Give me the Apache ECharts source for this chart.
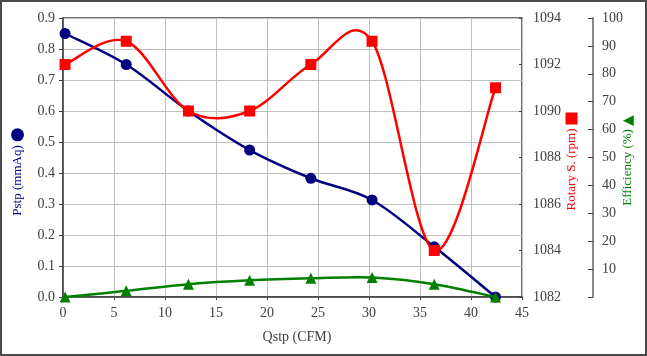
<!DOCTYPE html>
<html>
<head>
<meta charset="utf-8">
<script src="https://cdn.jsdelivr.net/npm/echarts@6/dist/echarts.min.js"></script>
<style>
html,body{margin:0;padding:0;background:#fff;}
#wrap{position:relative;width:647px;height:356px;}
#chart{position:absolute;left:0;top:0;width:647px;height:356px;}
#frame{position:absolute;left:0;top:0;width:647px;height:356px;box-sizing:border-box;border:2px solid #4a4a4a;pointer-events:none;}
</style>
</head>
<body>
<div id="wrap"><div id="chart"></div><div id="frame"></div></div>
<script>
var qstp = [0.2, 6.2, 12.3, 18.3, 24.3, 30.3, 36.4, 42.4];
var pstp = [0.85, 0.75, 0.60, 0.474, 0.383, 0.313, 0.162, 0.0];
var rotary = [1092, 1093, 1090, 1090, 1092, 1093, 1084, 1091];
var efficiency = [0, 2.2, 4.6, 6.0, 6.7, 7.0, 4.6, 0];

var FONT = '"Liberation Serif", "DejaVu Serif", serif';
var LABEL = {fontFamily: FONT, fontSize: 14, color: '#404040'};

function pairs(ys) { return qstp.map(function (x, i) { return [x, ys[i]]; }); }

// Smoothed (Excel-like Catmull-Rom Bezier) line drawn through the axis scales
function smoothSeries(ys, axisIndex, color, z) {
  return {
    type: 'custom', yAxisIndex: axisIndex, z: z, silent: true,
    data: pairs(ys),
    renderItem: function (params, api) {
      var i = params.dataIndex, n = qstp.length;
      if (i >= n - 1) return null;
      function P(k) { k = Math.max(0, Math.min(n - 1, k)); return api.coord([qstp[k], ys[k]]); }
      var p0 = P(i - 1), p1 = P(i), p2 = P(i + 1), p3 = P(i + 2);
      return {
        type: 'bezierCurve',
        shape: {
          x1: p1[0], y1: p1[1], x2: p2[0], y2: p2[1],
          cpx1: p1[0] + (p2[0] - p0[0]) / 6, cpy1: p1[1] + (p2[1] - p0[1]) / 6,
          cpx2: p2[0] - (p3[0] - p1[0]) / 6, cpy2: p2[1] - (p3[1] - p1[1]) / 6
        },
        style: {stroke: color, lineWidth: 2.5, fill: null, lineCap: 'round'}
      };
    }
  };
}
function marks(ys, axisIndex, color, symbol, size, z) {
  return {
    type: 'scatter', yAxisIndex: axisIndex, z: z, data: pairs(ys),
    symbol: symbol, symbolSize: size, itemStyle: {color: color, opacity: 1}
  };
}

var chart = echarts.init(document.getElementById('chart'), null, {renderer: 'canvas'});
chart.setOption({
  animation: false,
  backgroundColor: '#fff',
  grid: {left: 63, right: 125, top: 18, bottom: 59, outerBoundsMode: 'none', containLabel: false,
         show: true, borderColor: '#404040', borderWidth: 1.5, backgroundColor: 'transparent'},
  xAxis: {
    type: 'value', min: 0, max: 45, interval: 5,
    name: 'Qstp (CFM)', nameLocation: 'middle', nameGap: 33, nameMoveOverlap: false,
    nameTextStyle: {fontFamily: FONT, fontSize: 14, color: '#404040', padding: [0, 0, 0, 9]},
    axisLine: {show: true, onZero: false, lineStyle: {color: '#404040', width: 1.5}},
    axisTick: {show: true, length: 3, lineStyle: {color: '#404040'}},
    axisLabel: Object.assign({margin: 9}, LABEL),
    splitLine: {show: true, lineStyle: {color: '#c0c0c0', width: 1}}
  },
  yAxis: [
    {
      type: 'value', min: 0, max: 0.9, interval: 0.1, position: 'left',
      name: '{t|Pstp (mmAq)}{g|}{m|}', nameLocation: 'middle', nameRotate: 90, nameGap: 39, nameMoveOverlap: false,
      nameTextStyle: {padding: [0, 29, 0, 0], rich: {
        t: {fontFamily: FONT, fontSize: 13, color: '#000080'},
        g: {width: 4},
        m: {width: 13, height: 13, borderRadius: 6.5, backgroundColor: '#000080'}
      }},
      axisLine: {show: true, lineStyle: {color: '#404040', width: 1.5}},
      axisTick: {show: true, length: 4, lineStyle: {color: '#404040'}},
      axisLabel: Object.assign({margin: 8, formatter: function (v) { return v.toFixed(1); }}, LABEL),
      splitLine: {show: true, lineStyle: {color: '#c0c0c0', width: 1}}
    },
    {
      type: 'value', min: 1082, max: 1094, interval: 2, position: 'right',
      name: '{t|Rotary S. (rpm)}{g|}{m|}', nameLocation: 'middle', nameRotate: 90, nameGap: 43, nameMoveOverlap: false,
      nameTextStyle: {padding: [0, 8, 0, 0], rich: {
        t: {fontFamily: FONT, fontSize: 13, color: '#ff0000'},
        g: {width: 4},
        m: {width: 12, height: 12, backgroundColor: '#ff0000'}
      }},
      axisLine: {show: false},
      axisTick: {show: true, inside: true, length: 3, lineStyle: {color: '#404040'}},
      axisLabel: Object.assign({margin: 11, formatter: function (v) { return String(v); }}, LABEL),
      splitLine: {show: false}
    },
    {
      type: 'value', min: 0, max: 100, interval: 10, position: 'right', offset: 71,
      name: '{t|Efficiency (%)}{g|}{m|▲}', nameLocation: 'middle', nameRotate: 90, nameGap: 28, nameMoveOverlap: false,
      nameTextStyle: {padding: [0, 6, 0, 0], rich: {
        t: {fontFamily: FONT, fontSize: 13, color: '#008000'},
        g: {width: 3},
        m: {fontFamily: '"DejaVu Sans", sans-serif', fontSize: 14, color: '#008000'}
      }},
      axisLine: {show: true, lineStyle: {color: '#606060', width: 1.5}},
      axisTick: {show: true, inside: true, length: 5, lineStyle: {color: '#404040'}},
      axisLabel: Object.assign({margin: 9, formatter: function (v) { return v === 0 ? '' : String(v); }}, LABEL),
      splitLine: {show: false}
    }
  ],
  series: [
    smoothSeries(pstp, 0, '#000080', 2),
    marks(pstp, 0, '#000080', 'circle', 11, 3),
    smoothSeries(rotary, 1, '#ff0000', 4),
    marks(rotary, 1, '#ff0000', 'rect', 11, 5),
    smoothSeries(efficiency, 2, '#008000', 6),
    marks(efficiency, 2, '#008000', 'triangle', 11, 7)
  ]
});
</script>
</body>
</html>
